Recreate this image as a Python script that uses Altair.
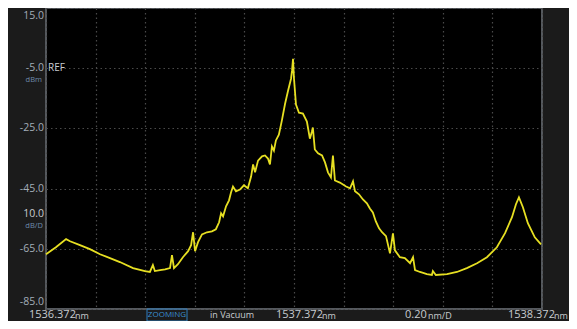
import altair as alt
import pandas as pd

# Trace (wavelength in nm, power in dBm)
wavelength = [
    1536.372, 1536.412, 1536.453, 1536.469, 1536.509, 1536.549, 1536.590, 1536.630,
    1536.670, 1536.723, 1536.771, 1536.791, 1536.803, 1536.811, 1536.832, 1536.852,
    1536.872, 1536.880, 1536.888, 1536.904, 1536.924, 1536.945, 1536.957, 1536.965,
    1536.973, 1536.985, 1537.001, 1537.021, 1537.041, 1537.057, 1537.070, 1537.078,
    1537.086, 1537.098, 1537.110, 1537.118, 1537.126, 1537.138, 1537.154, 1537.170,
    1537.186, 1537.199, 1537.207, 1537.215, 1537.227, 1537.243, 1537.255, 1537.267,
    1537.275, 1537.283, 1537.291, 1537.299, 1537.311, 1537.323, 1537.336, 1537.348,
    1537.360, 1537.364, 1537.368, 1537.372, 1537.380, 1537.392, 1537.408, 1537.424,
    1537.436, 1537.444, 1537.448, 1537.456, 1537.469, 1537.485, 1537.497, 1537.509,
    1537.521, 1537.529, 1537.537, 1537.557, 1537.582, 1537.598, 1537.610, 1537.618,
    1537.634, 1537.650, 1537.666, 1537.678, 1537.690, 1537.702, 1537.715, 1537.727,
    1537.743, 1537.759, 1537.771, 1537.779, 1537.799, 1537.819, 1537.840, 1537.852,
    1537.860, 1537.880, 1537.908, 1537.928, 1537.932, 1537.944, 1537.989, 1538.029,
    1538.069, 1538.110, 1538.150, 1538.190, 1538.223, 1538.251, 1538.267, 1538.279,
    1538.295, 1538.315, 1538.343, 1538.368,
]
power = [
    -66.8, -64.5, -61.8, -62.5, -63.8, -65.1, -66.8, -68.1,
    -69.4, -71.4, -72.4, -72.7, -70.4, -72.4, -72.1, -71.8,
    -71.4, -67.1, -71.4, -70.1, -67.8, -65.8, -63.8, -59.5,
    -65.8, -62.8, -60.2, -59.5, -59.2, -58.5, -56.2, -53.2,
    -54.2, -50.9, -48.9, -46.3, -44.3, -45.9, -45.3, -43.9,
    -44.9, -41.0, -37.0, -39.6, -35.7, -34.3, -34.0, -35.0,
    -37.0, -31.0, -32.4, -29.0, -27.1, -22.4, -16.8, -12.5,
    -8.5, -5.9, -1.9, -8.5, -17.1, -19.8, -20.1, -22.7,
    -28.4, -26.1, -24.7, -32.0, -33.3, -34.0, -36.3, -39.6,
    -41.3, -34.0, -42.3, -43.0, -44.3, -44.9, -42.6, -45.9,
    -46.9, -48.6, -49.9, -51.6, -52.9, -55.9, -58.2, -59.5,
    -60.8, -66.5, -59.9, -65.5, -67.8, -68.1, -69.8, -67.8,
    -72.1, -72.7, -73.4, -73.7, -72.4, -73.7, -73.4, -72.7,
    -71.4, -69.8, -67.8, -64.5, -59.8, -54.5, -50.2, -47.9,
    -51.2, -56.5, -61.2, -63.5,
]

x_min, x_max = 1536.372, 1538.372
y_min, y_max = -85.0, 15.0
x_grid = [1536.372 + 0.2 * i for i in range(11)]
y_grid = [15, 5, -5, -15, -25, -35, -45, -55, -65, -75, -85]

y_label_vals = [-5, -25, -45, -65]
y_label_txt = ["-5.0", "-25.0", "-45.0", "-65.0"]

trace = pd.DataFrame({"wl": wavelength, "p": power})
ylab = pd.DataFrame({"p": y_label_vals, "t": y_label_txt})

W, H = 496, 301
FONT = "Open Sans"
xs = alt.Scale(domain=[x_min, x_max], nice=False, zero=False)
ys = alt.Scale(domain=[y_min, y_max], nice=False, zero=False)

base = alt.Chart(trace)

grid = base.mark_line(opacity=0).encode(
    x=alt.X("wl:Q", scale=xs, axis=alt.Axis(values=x_grid, grid=True, labels=False, ticks=False,
                                             domain=False, title=None, gridColor="#4a4a4a",
                                             gridDash=[1.5, 3], gridWidth=1.2)),
    y=alt.Y("p:Q", scale=ys, axis=alt.Axis(values=y_grid, grid=True, labels=False, ticks=False,
                                            domain=False, title=None, gridColor="#4a4a4a",
                                            gridDash=[1.5, 3], gridWidth=1.2)),
)

line = base.mark_line(color="#e6df22", strokeWidth=1.8, interpolate="linear").encode(
    x=alt.X("wl:Q", scale=xs), y=alt.Y("p:Q", scale=ys)
)

ytext = alt.Chart(ylab).mark_text(align="right", baseline="middle", font=FONT, fontSize=10.5,
                                   color="#a3adb8").encode(
    x=alt.value(-2), y=alt.Y("p:Q", scale=ys), text="t:N"
)

def txt(t, x, y, size=10.5, color="#a3adb8", align="left", baseline="middle"):
    return alt.Chart(pd.DataFrame({"t": [t]})).mark_text(
        align=align, baseline=baseline, font=FONT, fontSize=size, color=color
    ).encode(x=alt.value(x), y=alt.value(y), text="t:N")

BY = 307
annot = [
    txt("15.0", -2, 3, align="right", baseline="top"),
    txt("-85.0", -2, 294, align="right"),
    txt("REF", 2, 60, color="#c8ccd0", size=10),
    txt("dBm", -4, 72, size=7.5, color="#6f8cab", align="right"),
    txt("10.0", -2, 206, align="right", color="#c8ccd0"),
    txt("dB/D", -3, 218, size=7.5, color="#6f8cab", align="right"),
    # bottom row
    txt("1536.372", -17, BY, size=11, color="#c8ccd0"),
    txt("nm", 29, BY + 1, size=9, color="#c8ccd0"),
    txt("ZOOMING", 121, BY, size=8, color="#3a8fd0", align="center"),
    txt("in Vacuum", 164, BY, size=9, color="#c8ccd0"),
    txt("1537.372", 230, BY, size=11, color="#c8ccd0"),
    txt("nm", 276, BY + 1, size=9, color="#c8ccd0"),
    txt("0.20", 359, BY, size=11, color="#c8ccd0"),
    txt("nm/D", 382, BY + 1, size=9, color="#c8ccd0"),
    txt("1538.372", 462, BY, size=11, color="#c8ccd0"),
    txt("nm", 508, BY + 1, size=9, color="#c8ccd0"),
]

zoom_box = alt.Chart(pd.DataFrame({"a": [0]})).mark_rect(
    fill="transparent", stroke="#2f7fbf", strokeWidth=1
).encode(x=alt.value(101), x2=alt.value(141), y=alt.value(301), y2=alt.value(313))

chart = alt.layer(grid, line, ytext, zoom_box, *annot).properties(
    width=W, height=H,
    background="#1b1b1b",
    padding={"left": 38, "top": 0, "right": 27, "bottom": 12},
    autosize=alt.AutoSizeParams(type="none"),
).configure_view(
    fill="#000000", stroke="#55595e", strokeWidth=2
)

chart.save("out.html", embed_options={"renderer": "svg", "actions": False})
